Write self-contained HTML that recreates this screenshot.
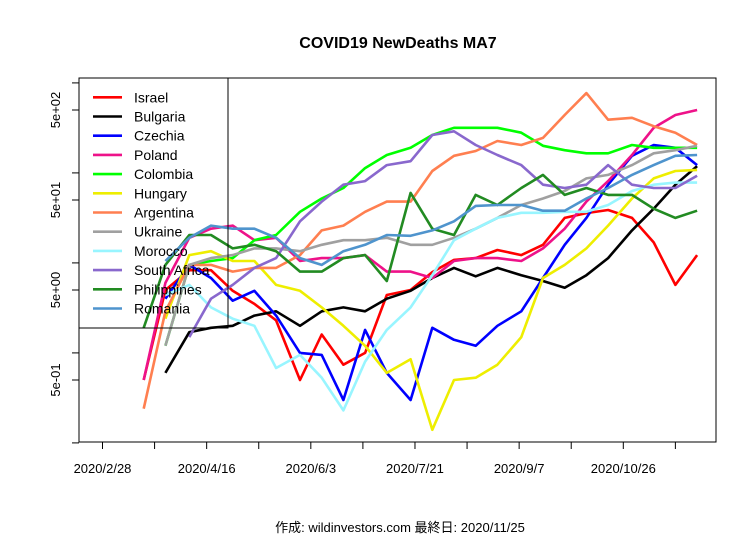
<!DOCTYPE html>
<html><head><meta charset="utf-8"><style>
body{margin:0;background:#fff}
svg{display:block;font-family:"Liberation Sans","Noto Sans CJK JP",sans-serif}
</style></head><body>
<svg id="chart" width="756" height="540" viewBox="0 0 756 540" xmlns="http://www.w3.org/2000/svg">
<rect x="0" y="0" width="756" height="540" fill="#fff"/>
<text x="398" y="48" text-anchor="middle" font-size="16" font-weight="bold">COVID19 NewDeaths MA7</text>
<defs><clipPath id="pc"><rect x="79" y="78" width="637" height="364"/></clipPath></defs>
<g id="series" clip-path="url(#pc)"></g>
<rect x="79" y="78" width="637" height="364" fill="none" stroke="#000" stroke-width="1"/>
<g id="axes"></g>
<g id="legend"></g>
<text x="400" y="532" text-anchor="middle" font-size="13">作成: wildinvestors.com 最終日: 2020/11/25</text>
</svg>
<script>
const days = [9,19,29,40,50,60,70,80,91,101,111,121,131,142,152,162,172,182,193,203,213,223,233,244,254,264,274];
const names = ["Israel","Bulgaria","Czechia","Poland","Colombia","Hungary","Argentina","Ukraine","Morocco","South Africa","Philippines","Romania"];
const colors = ["#ff0000","#000000","#0000ff","#ee1289","#00ff00","#eeee00","#ff7f50","#a0a0a0","#98f5ff","#8968cd","#228b22","#4f94cd"];
const israel = [null,0.5,5,8.3,8.3,4.9,3.5,2.3,0.5,1.6,0.74,1.0,4.4,5,7.9,10.8,11.3,13.9,12.2,15.9,31.6,35.8,38.7,31.6,16.9,5.7,12.2];
const bulgaria = [null,null,0.6,1.7,1.9,2.0,2.6,2.9,2.0,2.9,3.2,2.9,4,4.9,6.8,8.8,7.1,8.8,7.3,6.3,5.3,7.3,11.3,23,40,74,119];
const czechia = [null,null,4,9.5,6.8,3.8,4.9,2.6,1.0,0.95,0.3,1.8,0.6,0.3,1.9,1.4,1.2,2.0,2.9,6.8,15.9,31.6,74,155,204,190,122];
const poland = [null,0.5,6,19,24,26,17.9,19,10.5,11.3,11.3,12.2,8,8,6.8,10.5,11.3,11.3,10.5,14.5,24,48,81,158,317,440,500];
const colombia = [null,null,1.2,9.5,10.5,11.3,17.9,20.4,37,52,68,113,158,190,264,317,317,317,280,200,179,165,165,204,190,190,190];
const hungary = [null,null,2.4,12.2,13.5,10.5,10.5,5.7,4.9,3.2,2.0,1.2,0.6,0.85,0.14,0.5,0.53,0.74,1.5,6.8,9.5,14.5,26,52,87,105,108];
const argentina = [null,0.24,2.9,9.5,9.5,8.0,8.8,8.8,12.2,23,26,37,48,48,105,155,175,226,204,245,440,770,390,410,330,280,204];
const ukraine = [null,null,1.2,9.5,11.3,12.2,14.5,14.5,13.5,15.9,17.9,17.9,19,15.9,15.9,19,24,31.6,44,52,63,87,95,122,165,179,200];
const morocco = [null,null,4.4,5.7,3.2,2.4,2.0,0.68,0.95,0.53,0.23,0.8,1.8,3.2,7.3,17.9,24,31.6,36,36,37,37,44,63,74,78,78];
const southAfrica = [null,null,null,1.5,4.0,5.7,8.8,11.3,29,48,74,81,122,135,264,290,204,158,122,74,68,74,122,74,68,68,93];
const philippines = [null,1.9,9.5,20.4,20.4,14.5,15.9,13.5,8.0,8.0,11.3,12.2,6.3,60,24,20.4,57,44,68,95,57,68,57,57,40,31.6,38];
const romania = [null,null,10.5,19,26,24,24,19,11.3,9.5,13.5,15.9,20.4,20,23,29,43,44,44,38,38,52,68,95,122,155,158];
const seriesData = [israel,bulgaria,czechia,poland,colombia,hungary,argentina,ukraine,morocco,southAfrica,philippines,romania];
const yTickVals = [0.1,0.5,1,5,10,50,100,500,1000];
const yLabelVals = [0.5,5,50,500];
const yLabels = ["5e-01","5e+00","5e+01","5e+02"];
const xTickDays = [0,24,48,72,96,120,144,168,192,216,240,264];
const xLabelDays = [0,48,96,144,192,240];
const xLabels = ["2020/2/28","2020/4/16","2020/6/3","2020/7/21","2020/9/7","2020/10/26"];

const NS="http://www.w3.org/2000/svg";
function xs(d){return 102.5+2.17*d;}
function ys(v){return 380-90*Math.log10(v/0.5);}
function mk(t,a){const e=document.createElementNS(NS,t);for(const k in a)e.setAttribute(k,a[k]);return e;}
const sg=document.getElementById('series');
seriesData.forEach((arr,i)=>{
  let d="",pen=false;
  arr.forEach((v,j)=>{
    if(v==null){pen=false;return;}
    d+=(pen?"L":"M")+xs(days[j]).toFixed(1)+","+ys(v).toFixed(1);pen=true;
  });
  const p=mk('path',{d:d,fill:'none',stroke:colors[i],'stroke-width':2.6,'stroke-linejoin':'round'});
  
  
  sg.appendChild(p);
});
const ax=document.getElementById('axes');
yTickVals.forEach(v=>{
  const y=ys(v); if(y<77||y>443)return;
  const t=mk('line',{x1:72,x2:79,y1:y,y2:y,stroke:'#000'});
  
  
  ax.appendChild(t);
});
yLabelVals.forEach((v,i)=>{
  const y=ys(v);
  const t=mk('text',{x:0,y:0,transform:`translate(60,${y}) rotate(-90)`,'text-anchor':'middle','font-size':13});
  t.textContent=yLabels[i];
  
  
  ax.appendChild(t);
});
xTickDays.forEach(d=>{
  const x=xs(d);
  const t=mk('line',{x1:x,x2:x,y1:442,y2:449,stroke:'#000'});
  
  
  ax.appendChild(t);
});
xLabelDays.forEach((d,i)=>{
  const t=mk('text',{x:xs(d),y:473,'text-anchor':'middle','font-size':13});
  t.textContent=xLabels[i];
  
  
  ax.appendChild(t);
});
const lg=document.getElementById('legend');
const box=mk('path',{d:'M79,328 L228,328 L228,78',fill:'none',stroke:'#000'});


lg.appendChild(box);
names.forEach((n,i)=>{
  const y=97.3+19.2*i;
  const g=mk('g',{});
  
  
  g.appendChild(mk('line',{x1:93,x2:122,y1:y,y2:y,stroke:colors[i],'stroke-width':2.6}));
  const t=mk('text',{x:134,y:y+5,'font-size':14});
  t.textContent=n;
  g.appendChild(t);
  lg.appendChild(g);
});
</script>
</body></html>
